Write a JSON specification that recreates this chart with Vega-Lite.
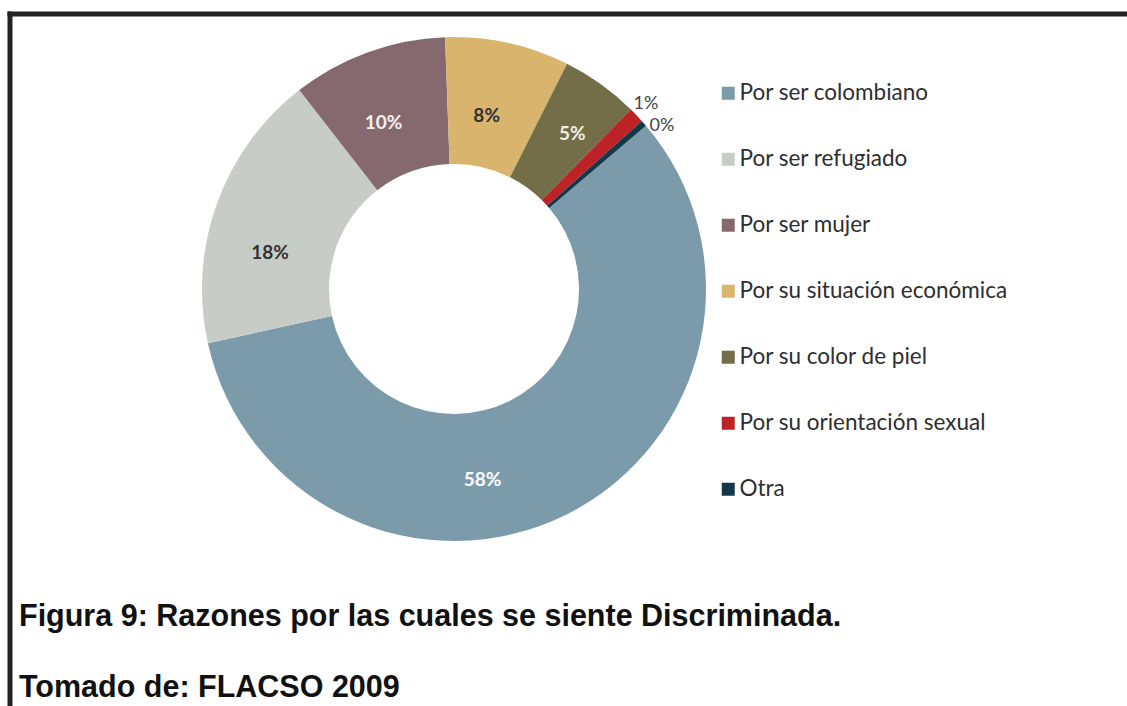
{
  "$schema": "https://vega.github.io/schema/vega-lite/v6.json",
  "width": 1117,
  "height": 692,
  "autosize": {"type": "none"},
  "padding": {"left": 10, "top": 14, "right": 0, "bottom": 0},
  "background": "white",
  "title": {
    "text": "Figura 9: Razones por las cuales se siente Discriminada.",
    "subtitle": "Tomado de: FLACSO 2009",
    "orient": "bottom",
    "anchor": "start",
    "frame": "group",
    "dx": 9,
    "offset": -108,
    "font": "Liberation Sans",
    "fontSize": 30.5,
    "fontWeight": "bold",
    "color": "#111111",
    "subtitleFont": "Liberation Sans",
    "subtitleFontSize": 30.5,
    "subtitleFontWeight": "bold",
    "subtitleColor": "#111111",
    "subtitlePadding": 41
  },
  "config": {
    "view": {"stroke": null},
    "legend": {
      "orient": "none",
      "legendX": 707,
      "legendY": 68,
      "padding": 0,
      "symbolType": "square",
      "symbolSize": 169,
      "symbolStrokeWidth": 0,
      "labelFont": "Lato",
      "labelFontSize": 22.5,
      "labelColor": "#2E2E2E",
      "labelOffset": 0,
      "labelLimit": 400,
      "rowPadding": 43
    }
  },
  "data": {
    "values": [
      {"cat": "Por ser colombiano", "value": 58, "label": "58%"},
      {"cat": "Por ser refugiado", "value": 18, "label": "18%"},
      {"cat": "Por ser mujer", "value": 10, "label": "10%"},
      {"cat": "Por su situación económica", "value": 8, "label": "8%"},
      {"cat": "Por su color de piel", "value": 5, "label": "5%"},
      {"cat": "Por su orientación sexual", "value": 1, "label": "1%"},
      {"cat": "Otra", "value": 0.4, "label": "0%"}
    ]
  },
  "layer": [
    {
      "data": {"values": [{}]},
      "mark": {"type": "rule", "strokeWidth": 5, "color": "#222222", "strokeCap": "square"},
      "encoding": {
        "x": {"datum": 0, "type": "quantitative", "scale": {"domain": [0, 1], "nice": false, "zero": false}, "axis": null},
        "x2": {"datum": 1},
        "y": {"datum": 1, "type": "quantitative", "scale": {"domain": [0, 1], "nice": false, "zero": false}, "axis": null}
      }
    },
    {
      "data": {"values": [{}]},
      "mark": {"type": "rule", "strokeWidth": 5, "color": "#222222", "strokeCap": "square"},
      "encoding": {
        "x": {"datum": 0, "type": "quantitative"},
        "y": {"datum": 1, "type": "quantitative"},
        "y2": {"datum": 0}
      }
    },
    {
      "mark": {"type": "arc", "outerRadius": 252, "innerRadius": 125},
      "encoding": {
        "x": {"datum": 0.3975, "type": "quantitative"},
        "y": {"datum": 0.6026, "type": "quantitative"},
        "theta": {"field": "value", "type": "quantitative", "stack": true, "scale": {"range": [0.8657, 7.1489]}},
        "order": {"field": "value", "sort": "descending"},
        "color": {
          "field": "cat",
          "type": "nominal",
          "title": null,
          "sort": null,
          "scale": {
            "domain": ["Por ser colombiano", "Por ser refugiado", "Por ser mujer", "Por su situación económica", "Por su color de piel", "Por su orientación sexual", "Otra"],
            "range": ["#7C9BAA", "#C7CCC6", "#86686F", "#D8B46C", "#736E47", "#BC2226", "#12384A"]
          }
        }
      }
    },
    {
      "mark": {"type": "text", "radius": 186, "dx": -7, "dy": 9, "font": "Lato", "fontSize": 19, "fontWeight": "bold", "align": "center", "baseline": "middle"},
      "encoding": {
        "x": {"datum": 0.3975, "type": "quantitative"},
        "y": {"datum": 0.6026, "type": "quantitative"},
        "theta": {"field": "value", "type": "quantitative", "stack": true},
        "order": {"field": "value", "sort": "descending"},
        "detail": {"field": "cat", "type": "nominal"},
        "text": {"field": "label", "type": "nominal", "condition": {"test": "datum.cat !== 'Por ser mujer' && datum.cat !== 'Por su situación económica'", "value": ""}},
        "color": {"condition": {"test": "datum.cat === 'Por ser mujer'", "value": "#F4F1EC"}, "value": "#333333"}
      }
    },
    {
      "mark": {"type": "text", "radius": 186, "dx": -9, "dy": 27, "font": "Lato", "fontSize": 19, "fontWeight": "bold", "align": "center", "baseline": "middle", "color": "#333333"},
      "encoding": {
        "x": {"datum": 0.3975, "type": "quantitative"},
        "y": {"datum": 0.6026, "type": "quantitative"},
        "theta": {"field": "value", "type": "quantitative", "stack": true},
        "order": {"field": "value", "sort": "descending"},
        "detail": {"field": "cat", "type": "nominal"},
        "text": {"field": "label", "type": "nominal", "condition": {"test": "datum.cat !== 'Por ser refugiado'", "value": ""}}
      }
    },
    {
      "mark": {"type": "text", "radius": 186, "dx": 10, "dy": -4, "font": "Lato", "fontSize": 19, "fontWeight": "bold", "align": "center", "baseline": "middle", "color": "#F0EEE2"},
      "encoding": {
        "x": {"datum": 0.3975, "type": "quantitative"},
        "y": {"datum": 0.6026, "type": "quantitative"},
        "theta": {"field": "value", "type": "quantitative", "stack": true},
        "order": {"field": "value", "sort": "descending"},
        "detail": {"field": "cat", "type": "nominal"},
        "text": {"field": "label", "type": "nominal", "condition": {"test": "datum.cat !== 'Por su color de piel'", "value": ""}}
      }
    },
    {
      "mark": {"type": "text", "radius": 188, "dx": -55, "dy": 23, "font": "Lato", "fontSize": 19, "fontWeight": "bold", "align": "center", "baseline": "middle", "color": "#FFFFFF"},
      "encoding": {
        "x": {"datum": 0.3975, "type": "quantitative"},
        "y": {"datum": 0.6026, "type": "quantitative"},
        "theta": {"field": "value", "type": "quantitative", "stack": true},
        "order": {"field": "value", "sort": "descending"},
        "detail": {"field": "cat", "type": "nominal"},
        "text": {"field": "label", "type": "nominal", "condition": {"test": "datum.cat !== 'Por ser colombiano'", "value": ""}}
      }
    },
    {
      "mark": {"type": "text", "radius": 268, "dx": -2, "dy": 0, "font": "Lato", "fontSize": 18, "align": "center", "baseline": "middle", "color": "#444444"},
      "encoding": {
        "x": {"datum": 0.3975, "type": "quantitative"},
        "y": {"datum": 0.6026, "type": "quantitative"},
        "theta": {"field": "value", "type": "quantitative", "stack": true},
        "order": {"field": "value", "sort": "descending"},
        "detail": {"field": "cat", "type": "nominal"},
        "text": {"field": "label", "type": "nominal", "condition": {"test": "datum.cat !== 'Por su orientación sexual'", "value": ""}}
      }
    },
    {
      "mark": {"type": "text", "radius": 268, "dx": 6, "dy": 13, "font": "Lato", "fontSize": 18, "align": "center", "baseline": "middle", "color": "#444444"},
      "encoding": {
        "x": {"datum": 0.3975, "type": "quantitative"},
        "y": {"datum": 0.6026, "type": "quantitative"},
        "theta": {"field": "value", "type": "quantitative", "stack": true},
        "order": {"field": "value", "sort": "descending"},
        "detail": {"field": "cat", "type": "nominal"},
        "text": {"field": "label", "type": "nominal", "condition": {"test": "datum.cat !== 'Otra'", "value": ""}}
      }
    }
  ]
}
